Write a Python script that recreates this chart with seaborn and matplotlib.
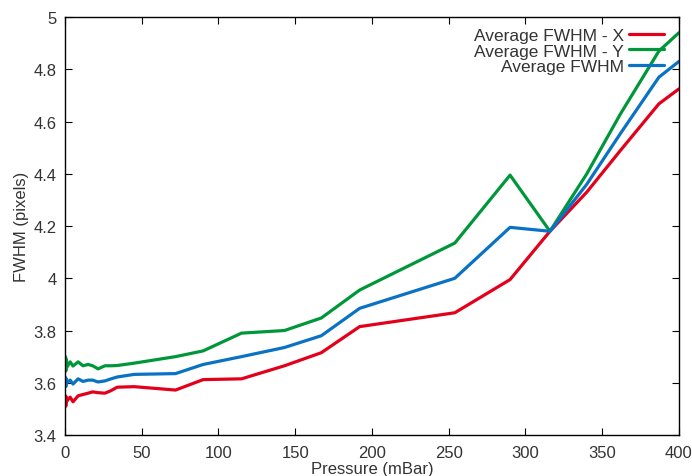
import matplotlib
matplotlib.use("Agg")
import matplotlib.pyplot as plt
import numpy as np
import pandas as pd
import seaborn as sns

# pressure in mBar (shared by the three series)
pressure = [0.1, 0.3, 0.5, 0.8, 1.2, 3.3, 5.2, 8.5, 11.7, 15, 18, 21.5, 26, 30, 34, 45,
            72, 90, 115, 143, 167, 192, 254, 290, 316, 340, 362, 387, 400]

fwhm_x = [3.52, 3.55, 3.51, 3.545, 3.53, 3.545, 3.527, 3.55, 3.555, 3.56, 3.565, 3.562,
          3.56, 3.57, 3.583, 3.585, 3.572, 3.612, 3.615, 3.665, 3.715, 3.815, 3.868,
          3.995, 4.18, 4.33, 4.49, 4.668, 4.725]
fwhm_y = [3.65, 3.70, 3.645, 3.69, 3.66, 3.68, 3.664, 3.68, 3.665, 3.67, 3.665, 3.653,
          3.665, 3.665, 3.666, 3.675, 3.70, 3.722, 3.79, 3.80, 3.848, 3.955, 4.135,
          4.395, 4.18, 4.40, 4.63, 4.87, 4.94]
fwhm_avg = [3.59, 3.62, 3.585, 3.615, 3.60, 3.61, 3.595, 3.615, 3.605, 3.61, 3.61, 3.603,
            3.607, 3.615, 3.622, 3.632, 3.635, 3.67, 3.70, 3.735, 3.78, 3.885, 4.0,
            4.195, 4.18, 4.36, 4.555, 4.77, 4.83]

labels = ["Average FWHM - X", "Average FWHM - Y", "Average FWHM"]
colors = ["#e3001b", "#00973a", "#0a72c4"]

df = pd.DataFrame({
    "Pressure": pressure * 3,
    "FWHM": fwhm_x + fwhm_y + fwhm_avg,
    "series": [labels[0]] * len(pressure) + [labels[1]] * len(pressure) + [labels[2]] * len(pressure),
})

sns.set_style("ticks")
plt.rcParams["font.family"] = ["Liberation Sans", "DejaVu Sans"]
plt.rcParams["axes.linewidth"] = 1.0

fig = plt.figure(figsize=(6.92, 4.77), dpi=100)
ax = fig.add_axes([0.094, 0.086, 0.887, 0.876])

sns.lineplot(data=df, x="Pressure", y="FWHM", hue="series", hue_order=labels,
             palette=colors, linewidth=2.3, sort=False, ax=ax)

ax.set_xlim(0, 400)
ax.set_ylim(3.4, 5.0)
ax.set_xticks(np.arange(0, 401, 50))
ax.set_yticks(np.arange(3.4, 5.01, 0.2))
ax.set_yticklabels(["3.4", "3.6", "3.8", "4", "4.2", "4.4", "4.6", "4.8", "5"])
ax.tick_params(axis="both", which="both", direction="in", length=5, width=0.8,
               top=True, right=True, labelsize=12, labelcolor="#333333", color="black")
ax.tick_params(axis="x", pad=7)
ax.tick_params(axis="y", pad=6)
for s in ax.spines.values():
    s.set_visible(True)
    s.set_color("black")
ax.set_xlabel("Pressure (mBar)", fontsize=12, labelpad=1, color="#333333")
ax.set_ylabel("FWHM (pixels)", fontsize=12, labelpad=3, color="#333333")

leg = ax.legend(loc="upper right", frameon=False, markerfirst=False, fontsize=12.5,
                handlelength=2.0, handletextpad=0.3, labelspacing=0.0,
                borderaxespad=0.0, bbox_to_anchor=(0.987, 0.99))
for vp in leg._legend_handle_box.get_children():
    vp.align = "right"
for t in leg.get_texts():
    t.set_color("#333333")

fig.savefig("out.png", dpi=100)
